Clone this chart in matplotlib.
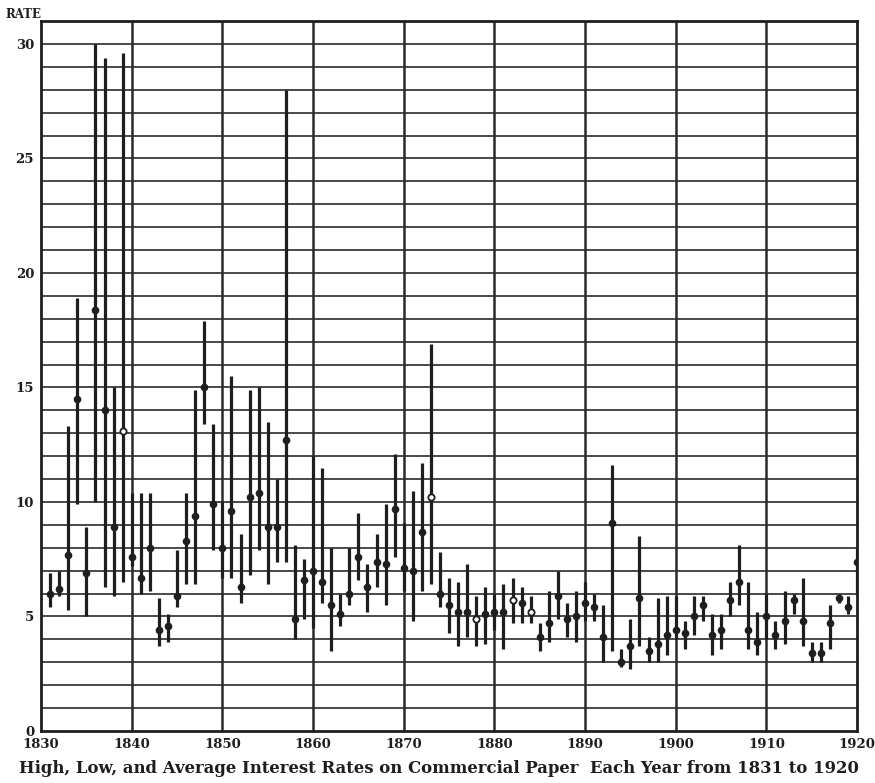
import matplotlib.pyplot as plt
import numpy as np

# Commercial paper rates, one entry per year 1831-1920
years = list(range(1831, 1921))
high = [6.9, 7.0, 13.3, 18.9, 8.9, 30.0, 29.4, 15.0, 29.6, 10.4,
        10.4, 10.4, 5.8, 5.1, 7.9, 10.4, 14.9, 17.9, 13.4, 10.0,
        15.5, 8.6, 14.9, 15.0, 13.5, 11.0, 28.0, 8.1, 7.5, 12.0,
        11.5, 8.0, 6.0, 8.0, 9.5, 7.3, 8.6, 9.9, 12.1, 9.1,
        10.5, 11.7, 16.9, 7.8, 6.7, 6.5, 7.3, 5.9, 6.3, 6.0,
        6.4, 6.7, 6.3, 5.9, 4.7, 6.1, 7.0, 5.6, 6.1, 6.5,
        6.0, 5.5, 11.6, 3.6, 4.9, 8.5, 4.1, 5.8, 5.9, 5.9,
        4.8, 5.9, 5.9, 5.1, 5.1, 6.5, 8.1, 6.5, 5.2, 6.0,
        4.8, 6.1, 6.0, 6.7, 3.9, 3.9, 5.5, 6.0, 5.9, 8.0]
low = [5.4, 5.9, 5.3, 9.9, 5.0, 10.0, 6.3, 5.9, 6.5, 7.2,
       6.0, 6.1, 3.7, 3.9, 5.4, 6.4, 6.4, 13.4, 7.9, 6.7,
       6.7, 5.6, 6.8, 7.9, 6.4, 7.4, 7.4, 4.0, 4.9, 4.5,
       5.6, 3.5, 4.6, 5.5, 6.6, 5.2, 6.3, 5.5, 7.6, 6.1,
       4.8, 6.1, 6.4, 5.4, 4.3, 3.7, 4.1, 3.7, 3.8, 4.4,
       3.6, 4.7, 4.7, 4.7, 3.5, 3.9, 4.9, 4.1, 3.9, 4.8,
       4.8, 3.0, 3.5, 2.8, 2.7, 3.7, 3.0, 3.0, 3.3, 4.0,
       3.6, 4.2, 4.8, 3.3, 3.6, 5.0, 5.5, 3.6, 3.3, 4.0,
       3.6, 3.8, 5.1, 3.7, 3.0, 3.0, 3.6, 5.6, 5.1, 6.0]
average = [6.0, 6.2, 7.7, 14.5, 6.9, 18.4, 14.0, 8.9, 13.1, 7.6,
           6.7, 8.0, 4.4, 4.6, 5.9, 8.3, 9.4, 15.0, 9.9, 8.0,
           9.6, 6.3, 10.2, 10.4, 8.9, 8.9, 12.7, 4.9, 6.6, 7.0,
           6.5, 5.5, 5.1, 6.0, 7.6, 6.3, 7.4, 7.3, 9.7, 7.1,
           7.0, 8.7, 10.2, 6.0, 5.5, 5.2, 5.2, 4.9, 5.1, 5.2,
           5.2, 5.7, 5.6, 5.2, 4.1, 4.7, 5.9, 4.9, 5.0, 5.6,
           5.4, 4.1, 9.1, 3.0, 3.7, 5.8, 3.5, 3.8, 4.2, 4.4,
           4.3, 5.0, 5.5, 4.2, 4.4, 5.7, 6.5, 4.4, 3.9, 5.0,
           4.2, 4.8, 5.7, 4.8, 3.4, 3.4, 4.7, 5.8, 5.4, 7.4]
# years whose average is drawn as a hollow circle
hollow_years = [1839, 1873, 1878, 1882, 1884]

ink = '#1e1e1e'
plt.rcParams['font.family'] = ['DejaVu Serif']
plt.rcParams['font.weight'] = 'bold'

fig = plt.figure(figsize=(8.75, 7.83), dpi=100)
ax = fig.add_axes([0.0469, 0.0664, 0.9326, 0.9068])
ax.set_xlim(1830, 1920)
ax.set_ylim(0, 31)

# ruled paper: a line every point of rate, a heavier one every decade
for r in range(1, 31):
    ax.axhline(r, color='#3a3a3a', lw=1.3, zorder=1)
for yr in range(1840, 1920, 10):
    ax.axvline(yr, color='#2a2a2a', lw=1.8, zorder=1)

ax.vlines(years, low, high, color=ink, lw=2.3, zorder=3)
solid = [(y, a) for y, a in zip(years, average) if y not in hollow_years]
hollow = [(y, a) for y, a in zip(years, average) if y in hollow_years]
ax.plot([s[0] for s in solid], [s[1] for s in solid], 'o', color=ink,
        ms=4.5, zorder=4)
ax.plot([h[0] for h in hollow], [h[1] for h in hollow], 'o', mfc='white',
        mec=ink, mew=1.3, ms=4.5, zorder=4)

for side in ax.spines.values():
    side.set_linewidth(2.0)
    side.set_color(ink)

ax.set_xticks(range(1830, 1921, 10))
ax.set_yticks(range(0, 31, 5))
ax.tick_params(length=0, labelsize=9.5, colors=ink, pad=5)
for lbl in ax.get_xticklabels() + ax.get_yticklabels():
    lbl.set_fontweight('bold')
# nudge the last year label so it stays inside the figure
ax.get_xticklabels()[-1].set_x(1919.5)

fig.text(0.006, 0.982, 'RATE', fontsize=8.5, fontweight='bold', color=ink,
         va='center', ha='left')
fig.text(0.502, 0.019, 'High, Low, and Average Interest Rates on Commercial Paper'
         '  Each Year from 1831 to 1920', fontsize=11.9, fontweight='bold',
         color=ink, ha='center', va='center')

fig.savefig('out.png', dpi=100)
